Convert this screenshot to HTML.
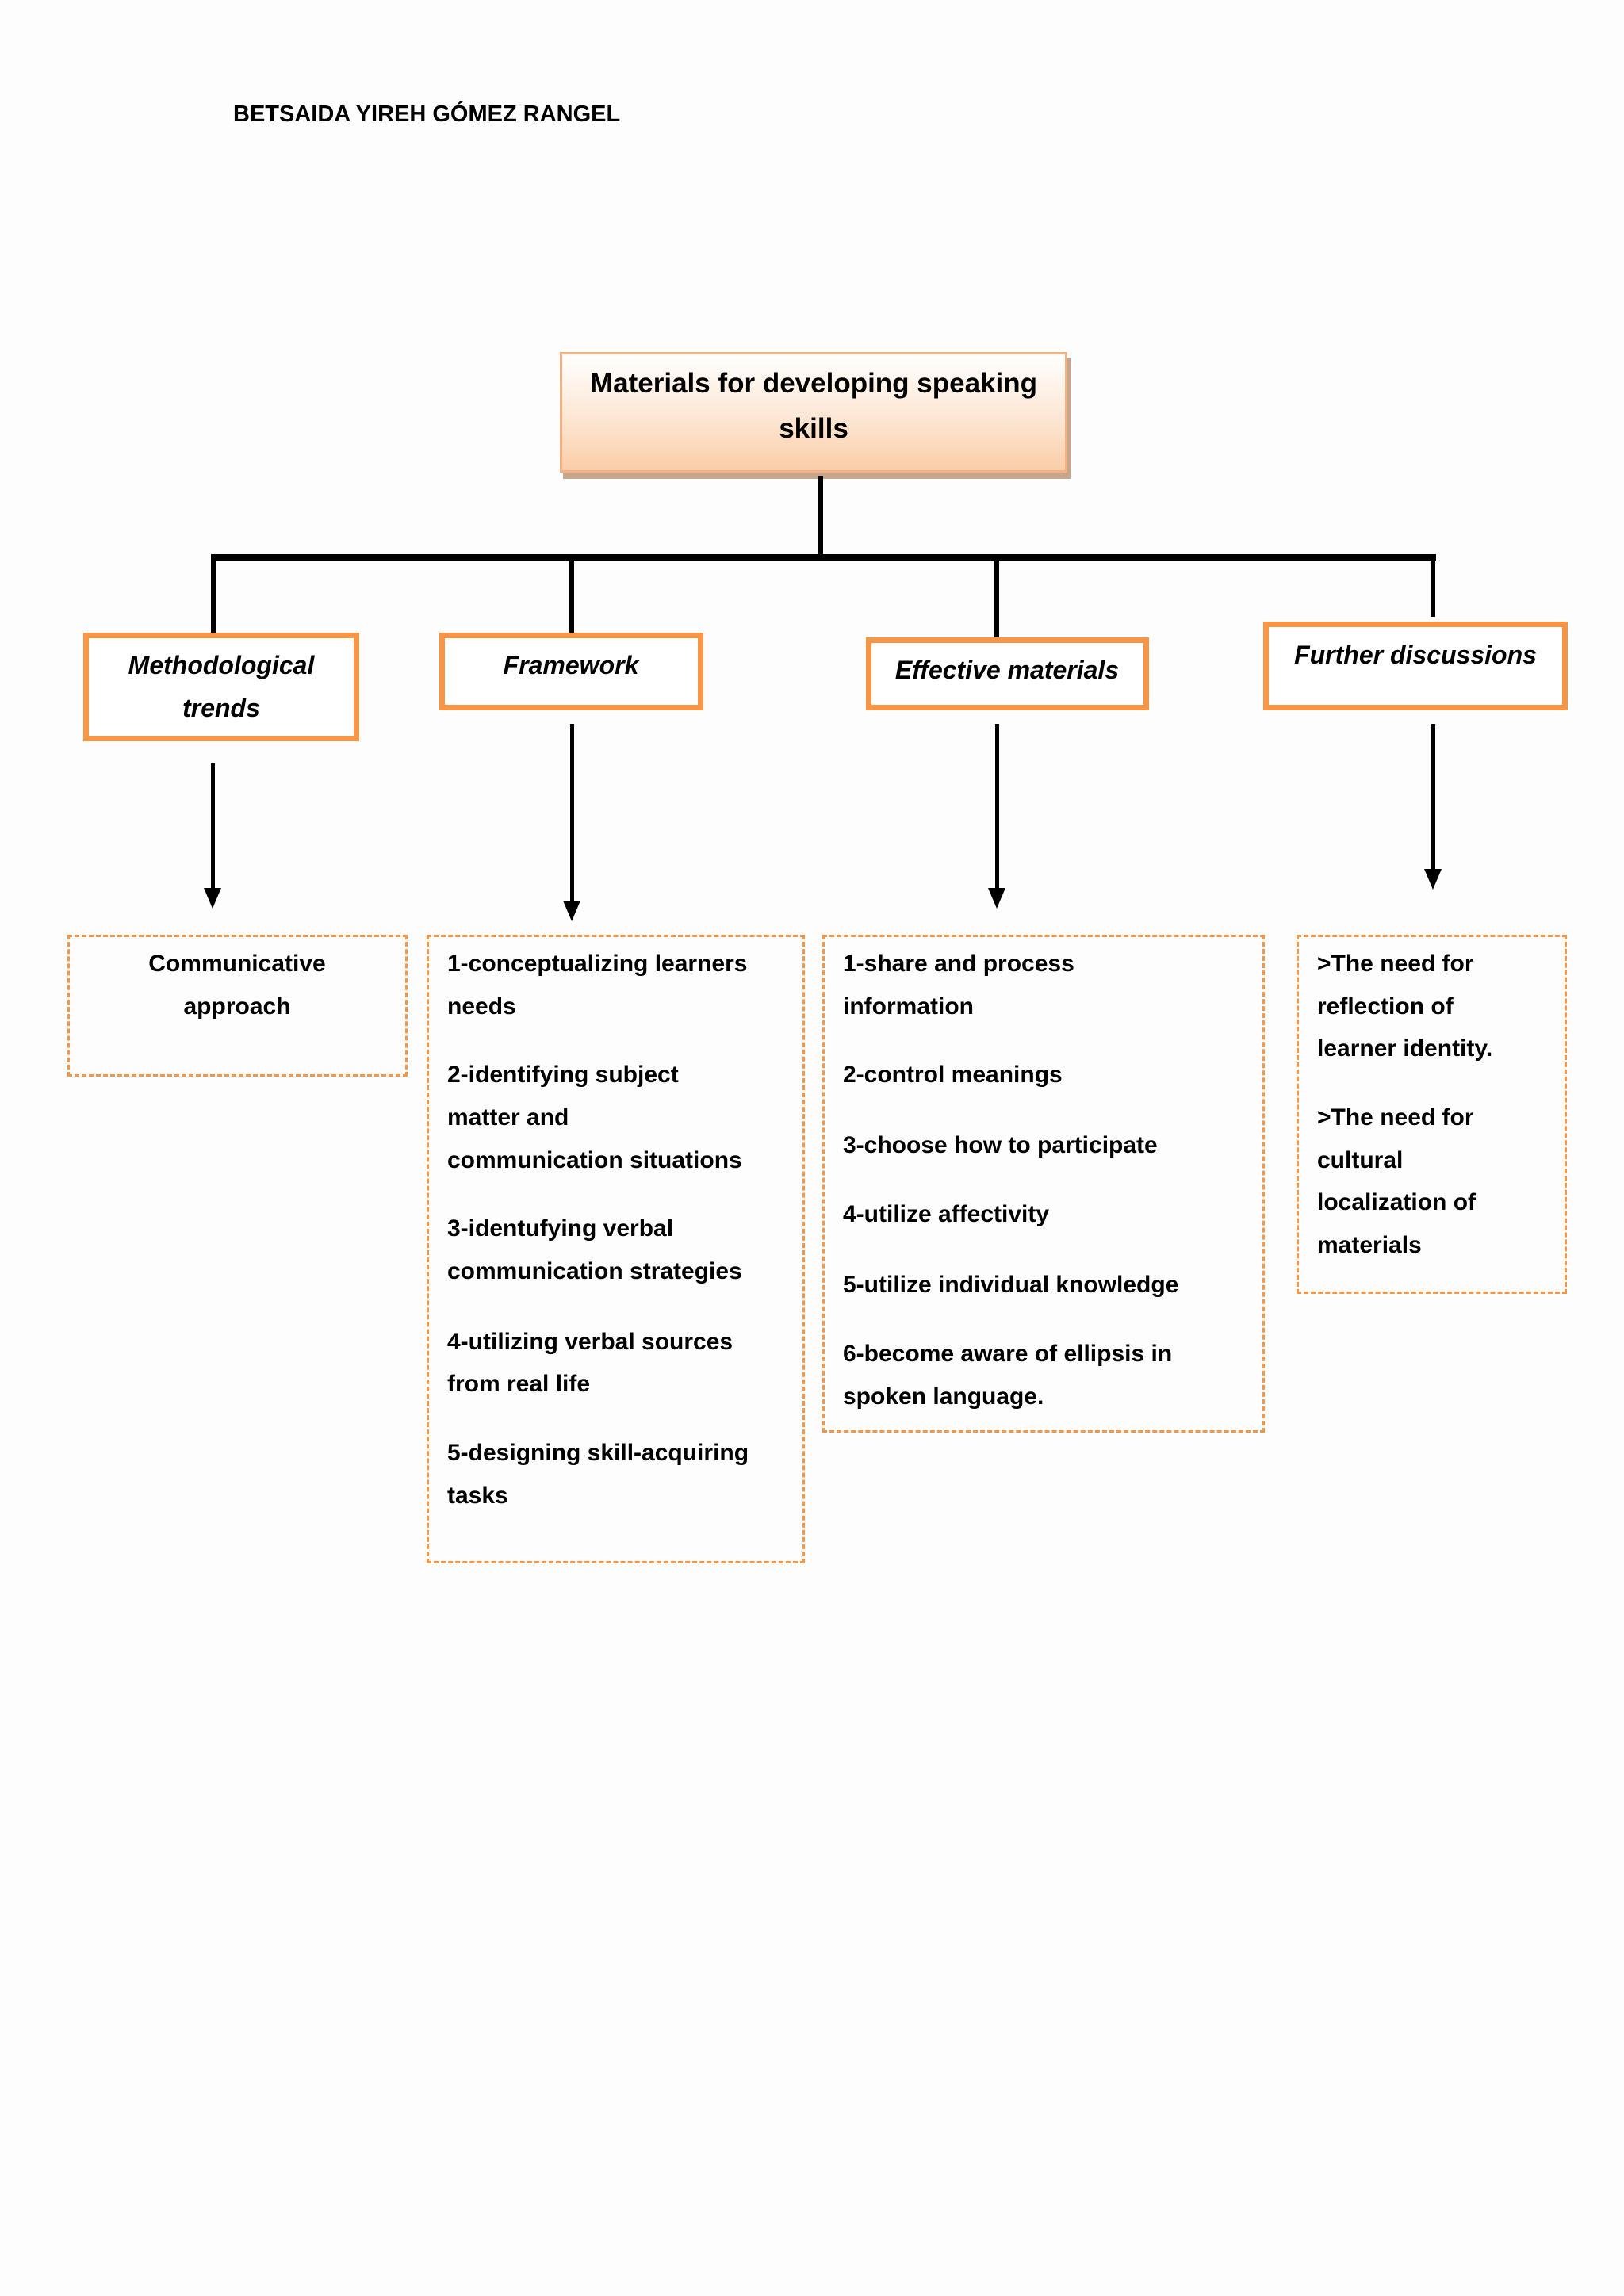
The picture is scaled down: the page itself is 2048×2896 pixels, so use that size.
<!DOCTYPE html>
<html><head><meta charset="utf-8"><style>
html,body{margin:0;padding:0;}
body{width:2048px;height:2896px;position:relative;background:#fdfdfd;font-family:"Liberation Sans",sans-serif;overflow:hidden;}
.t{position:absolute;white-space:nowrap;font-weight:bold;font-size:30px;line-height:40px;color:#000;}
.c{transform:translateX(-50%);}
.i{font-style:italic;}
.ln{position:absolute;background:#000;}
.ob{position:absolute;border:7px solid #f79646;background:#fff;box-sizing:border-box;}
.db{position:absolute;border:3px dashed #f79646;box-sizing:border-box;}
.ah{position:absolute;width:0;height:0;border-left:11px solid transparent;border-right:11px solid transparent;border-top:26px solid #000;}
</style></head><body>
<div class="t" style="left:294px;top:124px;font-size:29px;">BETSAIDA YIREH GÓMEZ RANGEL</div>

<div style="position:absolute;left:710px;top:452px;width:640px;height:152px;background:#c9a58a;"></div>
<div style="position:absolute;left:706px;top:444px;width:640px;height:152px;box-sizing:border-box;border:3px solid #f4b183;background:linear-gradient(#ffffff,#fce4cf 60%,#f9cda8);"></div>
<div class="t c" style="left:1026px;top:464px;font-size:35px;">Materials for developing speaking</div>
<div class="t c" style="left:1026px;top:521px;font-size:35px;">skills</div>

<div class="ln" style="left:1032px;top:600px;width:6px;height:104px;"></div>
<div class="ln" style="left:266px;top:699px;width:1545px;height:8px;"></div>
<div class="ln" style="left:266px;top:700px;width:6px;height:100px;"></div>
<div class="ln" style="left:718px;top:700px;width:6px;height:100px;"></div>
<div class="ln" style="left:1254px;top:700px;width:6px;height:106px;"></div>
<div class="ln" style="left:1804px;top:700px;width:6px;height:78px;"></div>

<div class="ob" style="left:105px;top:798px;width:348px;height:137px;"></div>
<div class="t c i" style="left:279px;top:819px;font-size:32px;">Methodological</div>
<div class="t c i" style="left:279px;top:873px;font-size:32px;">trends</div>
<div class="ob" style="left:554px;top:798px;width:333px;height:98px;"></div>
<div class="t c i" style="left:720px;top:819px;font-size:32px;">Framework</div>
<div class="ob" style="left:1092px;top:804px;width:357px;height:92px;"></div>
<div class="t c i" style="left:1270px;top:825px;font-size:32px;">Effective materials</div>
<div class="ob" style="left:1593px;top:784px;width:384px;height:112px;"></div>
<div class="t c i" style="left:1785px;top:806px;font-size:32px;">Further discussions</div>

<div class="ln" style="left:266px;top:963px;width:5px;height:160px;"></div>
<div class="ah" style="left:257px;top:1120px;"></div>
<div class="ln" style="left:719px;top:913px;width:5px;height:225px;"></div>
<div class="ah" style="left:710px;top:1136px;"></div>
<div class="ln" style="left:1255px;top:913px;width:5px;height:210px;"></div>
<div class="ah" style="left:1246px;top:1120px;"></div>
<div class="ln" style="left:1805px;top:913px;width:5px;height:185px;"></div>
<div class="ah" style="left:1796px;top:1096px;"></div>

<div class="db" style="left:85px;top:1179px;width:429px;height:179px;"></div>
<div class="t c" style="left:299px;top:1196px;">Communicative</div>
<div class="t c" style="left:299px;top:1250px;">approach</div>

<div class="db" style="left:538px;top:1179px;width:477px;height:793px;"></div>
<div class="t" style="left:564px;top:1196px;">1-conceptualizing learners</div>
<div class="t" style="left:564px;top:1250px;">needs</div>
<div class="t" style="left:564px;top:1336px;">2-identifying subject</div>
<div class="t" style="left:564px;top:1390px;">matter and</div>
<div class="t" style="left:564px;top:1444px;">communication situations</div>
<div class="t" style="left:564px;top:1530px;">3-identufying verbal</div>
<div class="t" style="left:564px;top:1584px;">communication strategies</div>
<div class="t" style="left:564px;top:1673px;">4-utilizing verbal sources</div>
<div class="t" style="left:564px;top:1726px;">from real life</div>
<div class="t" style="left:564px;top:1813px;">5-designing skill-acquiring</div>
<div class="t" style="left:564px;top:1867px;">tasks</div>

<div class="db" style="left:1037px;top:1179px;width:558px;height:628px;"></div>
<div class="t" style="left:1063px;top:1196px;">1-share and process</div>
<div class="t" style="left:1063px;top:1250px;">information</div>
<div class="t" style="left:1063px;top:1336px;">2-control meanings</div>
<div class="t" style="left:1063px;top:1425px;">3-choose how to participate</div>
<div class="t" style="left:1063px;top:1512px;">4-utilize affectivity</div>
<div class="t" style="left:1063px;top:1601px;">5-utilize individual knowledge</div>
<div class="t" style="left:1063px;top:1688px;">6-become aware of ellipsis in</div>
<div class="t" style="left:1063px;top:1742px;">spoken language.</div>

<div class="db" style="left:1635px;top:1179px;width:341px;height:453px;"></div>
<div class="t" style="left:1661px;top:1196px;">&gt;The need for</div>
<div class="t" style="left:1661px;top:1250px;">reflection of</div>
<div class="t" style="left:1661px;top:1303px;">learner identity.</div>
<div class="t" style="left:1661px;top:1390px;">&gt;The need for</div>
<div class="t" style="left:1661px;top:1444px;">cultural</div>
<div class="t" style="left:1661px;top:1497px;">localization of</div>
<div class="t" style="left:1661px;top:1551px;">materials</div>
</body></html>
